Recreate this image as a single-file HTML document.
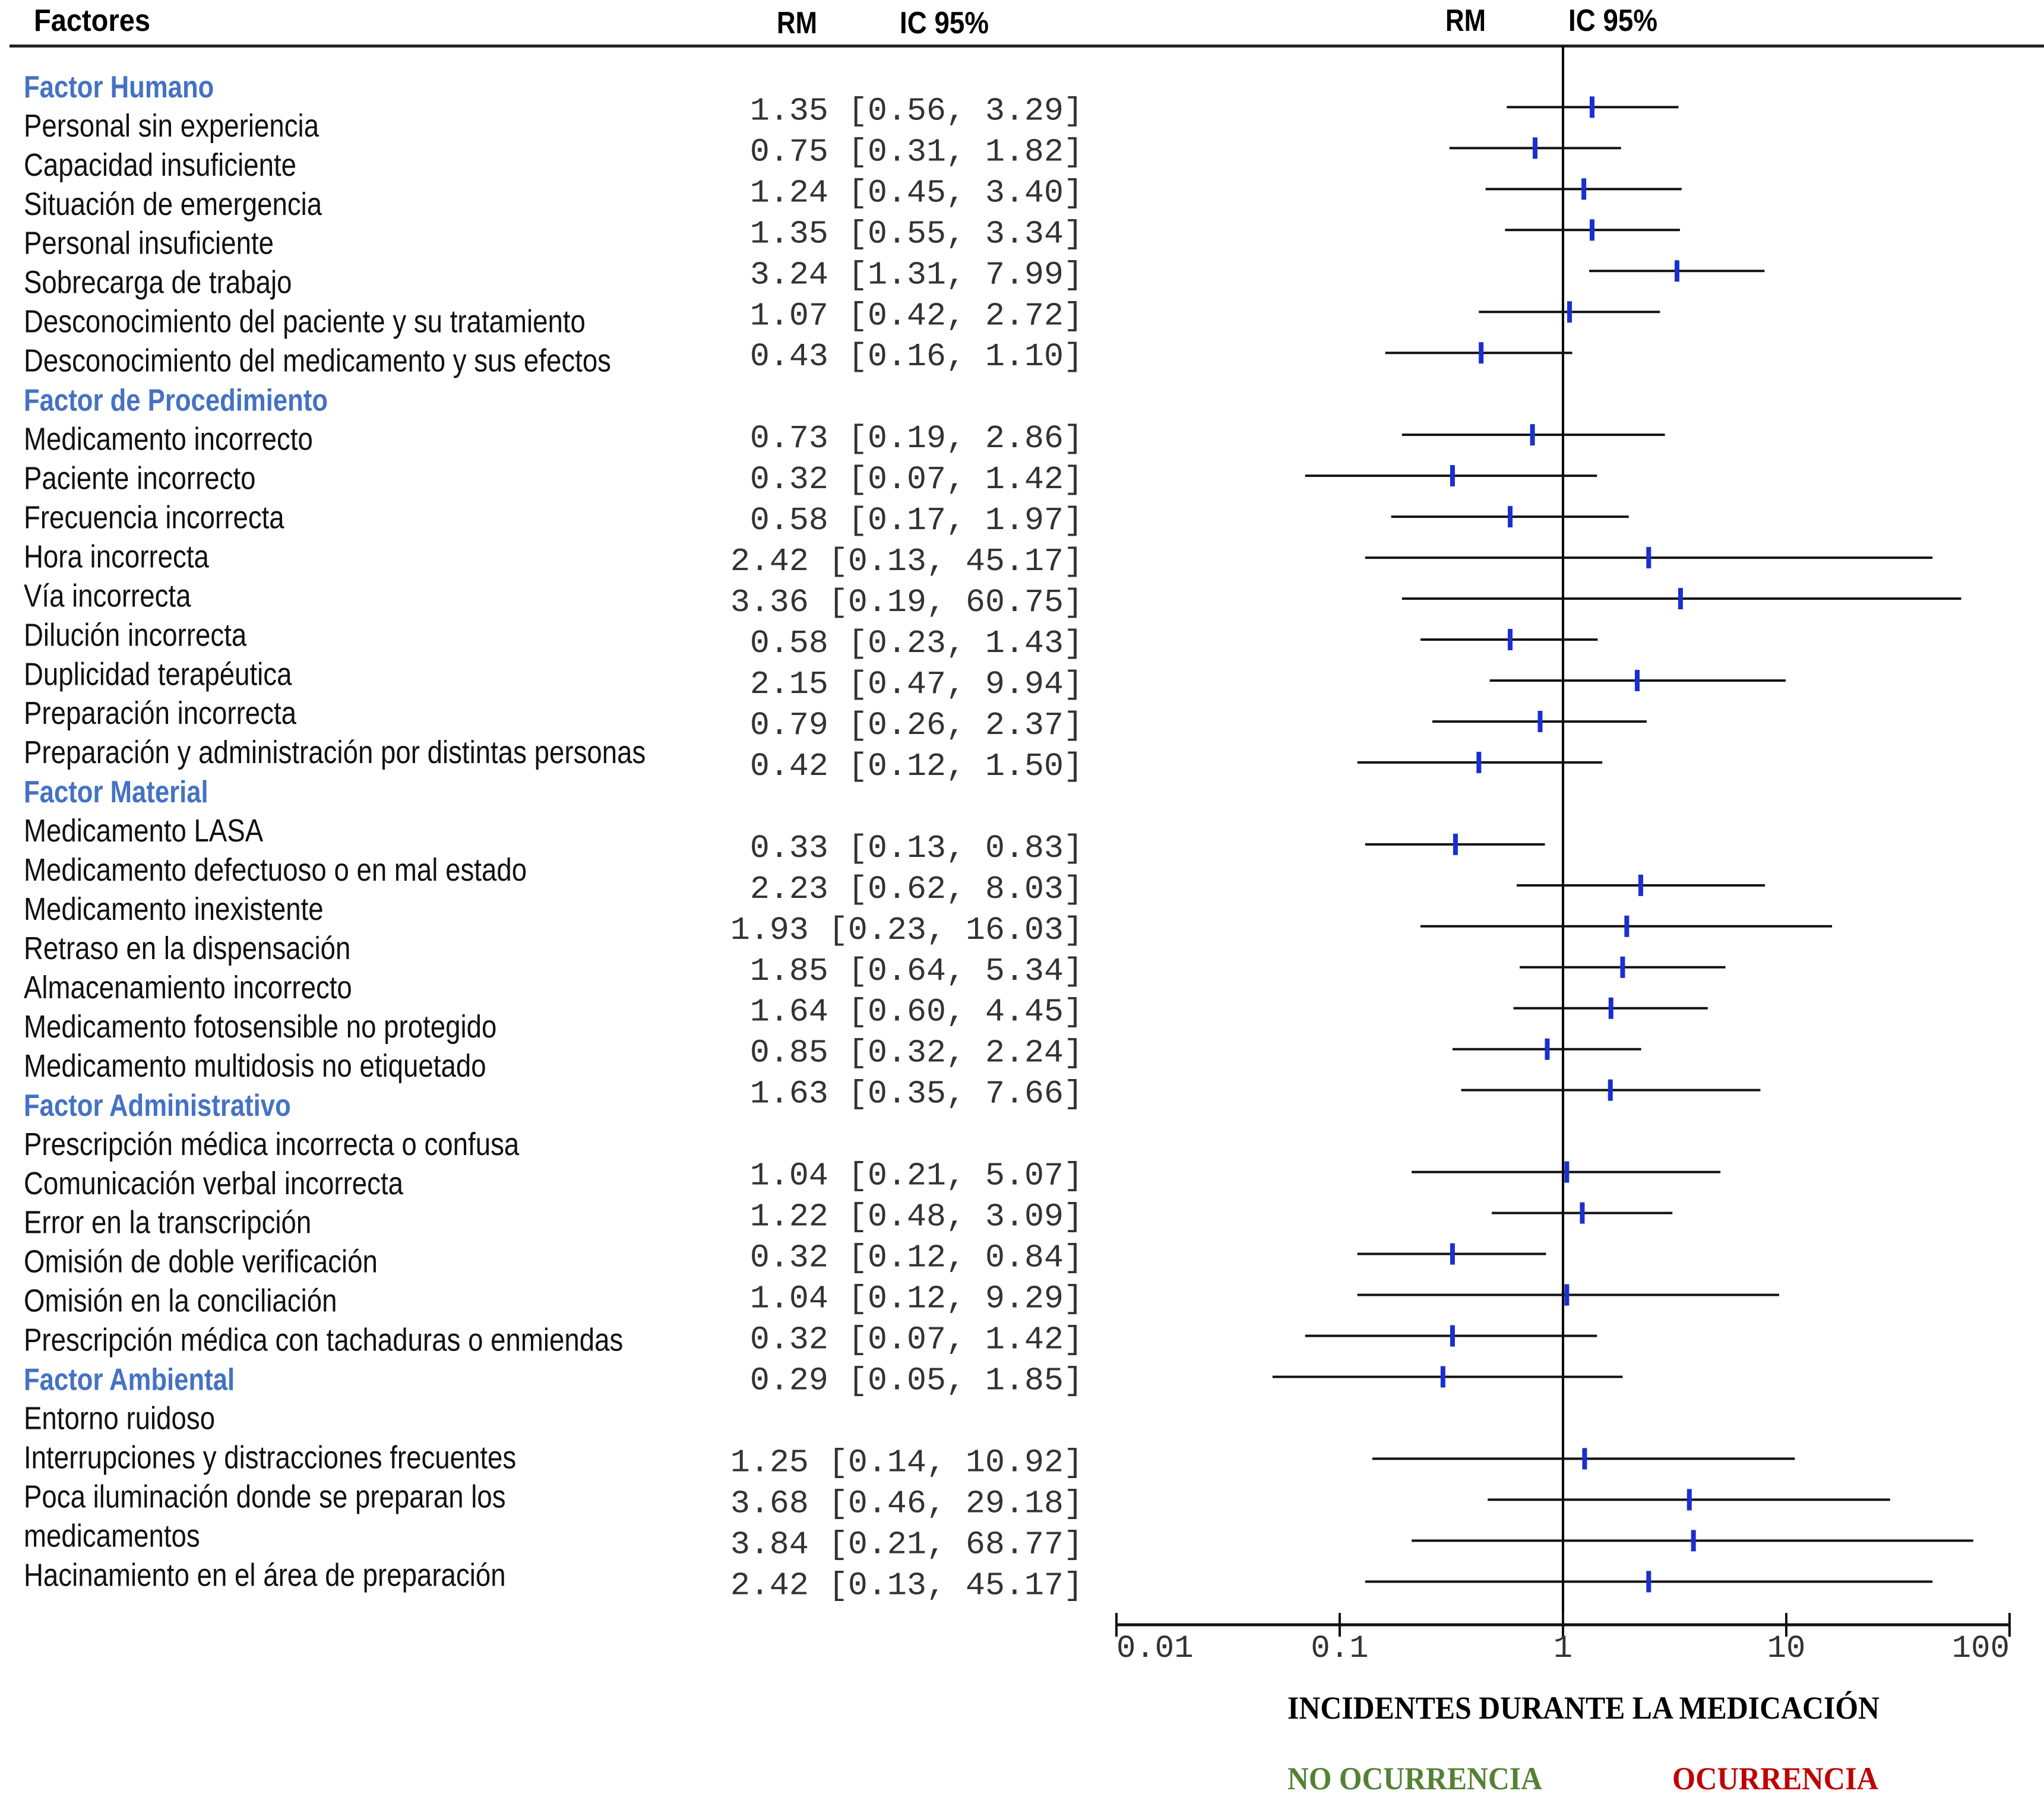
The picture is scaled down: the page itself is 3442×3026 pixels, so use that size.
<!DOCTYPE html>
<html><head><meta charset="utf-8">
<style>
html,body{margin:0;padding:0;background:#fff;}
svg{display:block;}
</style></head>
<body>
<svg id="chart" xmlns="http://www.w3.org/2000/svg" width="3442" height="3026" viewBox="0 0 3442 3026">
  <rect x="0" y="0" width="3442" height="3026" fill="#fff"/>
  <g>
    <text x="57" y="52" font-family="Liberation Sans, sans-serif" font-weight="bold" font-size="52" textLength="196" lengthAdjust="spacingAndGlyphs">Factores</text>
    <text x="1308" y="56" font-family="Liberation Sans, sans-serif" font-weight="bold" font-size="52" textLength="68" lengthAdjust="spacingAndGlyphs">RM</text>
    <text x="1515" y="56" font-family="Liberation Sans, sans-serif" font-weight="bold" font-size="52" textLength="150" lengthAdjust="spacingAndGlyphs">IC 95%</text>
    <text x="2434" y="52" font-family="Liberation Sans, sans-serif" font-weight="bold" font-size="52" textLength="68" lengthAdjust="spacingAndGlyphs">RM</text>
    <text x="2641" y="52" font-family="Liberation Sans, sans-serif" font-weight="bold" font-size="52" textLength="150" lengthAdjust="spacingAndGlyphs">IC 95%</text>
    <rect x="16" y="75" width="3426" height="5" fill="#222"/>
  </g>
  <g id="labels"></g>
  <g id="values"></g>
  <g id="plot"></g>
  <g>
    <text x="2168" y="2894" font-family="Liberation Serif, serif" font-weight="bold" font-size="54" textLength="997" lengthAdjust="spacingAndGlyphs">INCIDENTES DURANTE LA MEDICACIÓN</text>
    <text x="2168" y="3013" font-family="Liberation Serif, serif" font-weight="bold" font-size="54" fill="#548235" textLength="429" lengthAdjust="spacingAndGlyphs">NO OCURRENCIA</text>
    <text x="2816" y="3013" font-family="Liberation Serif, serif" font-weight="bold" font-size="54" fill="#c00000" textLength="347" lengthAdjust="spacingAndGlyphs">OCURRENCIA</text>
  </g>
</svg>
<script>
const groupNames = ["Factor Humano","Factor de Procedimiento","Factor Material","Factor Administrativo","Factor Ambiental"];
const groupSizes = [7, 9, 7, 6, 4];
const labelLines = [
 ["Personal sin experiencia","Capacidad insuficiente","Situación de emergencia","Personal insuficiente","Sobrecarga de trabajo","Desconocimiento del paciente y su tratamiento","Desconocimiento del medicamento y sus efectos"],
 ["Medicamento incorrecto","Paciente incorrecto","Frecuencia incorrecta","Hora incorrecta","Vía incorrecta","Dilución incorrecta","Duplicidad terapéutica","Preparación incorrecta","Preparación y administración por distintas personas"],
 ["Medicamento LASA","Medicamento defectuoso o en mal estado","Medicamento inexistente","Retraso en la dispensación","Almacenamiento incorrecto","Medicamento fotosensible no protegido","Medicamento multidosis no etiquetado"],
 ["Prescripción médica incorrecta o confusa","Comunicación verbal incorrecta","Error en la transcripción","Omisión de doble verificación","Omisión en la conciliación","Prescripción médica con tachaduras o enmiendas"],
 ["Entorno ruidoso","Interrupciones y distracciones frecuentes","Poca iluminación donde se preparan los","medicamentos","Hacinamiento en el área de preparación"]
];
const rmValues = [1.35,0.75,1.24,1.35,3.24,1.07,0.43, 0.73,0.32,0.58,2.42,3.36,0.58,2.15,0.79,0.42, 0.33,2.23,1.93,1.85,1.64,0.85,1.63, 1.04,1.22,0.32,1.04,0.32,0.29, 1.25,3.68,3.84,2.42];
const lowValues = [0.56,0.31,0.45,0.55,1.31,0.42,0.16, 0.19,0.07,0.17,0.13,0.19,0.23,0.47,0.26,0.12, 0.13,0.62,0.23,0.64,0.60,0.32,0.35, 0.21,0.48,0.12,0.12,0.07,0.05, 0.14,0.46,0.21,0.13];
const highValues = [3.29,1.82,3.40,3.34,7.99,2.72,1.10, 2.86,1.42,1.97,45.17,60.75,1.43,9.94,2.37,1.50, 0.83,8.03,16.03,5.34,4.45,2.24,7.66, 5.07,3.09,0.84,9.29,1.42,1.85, 10.92,29.18,68.77,45.17];
const tickValues = [0.01, 0.1, 1, 10, 100];
const tickLabels = ["0.01","0.1","1","10","100"];

const NS = "http://www.w3.org/2000/svg";
function mk(tag, attrs, parent){ const e=document.createElementNS(NS,tag); for(const k in attrs) e.setAttribute(k,attrs[k]); parent.appendChild(e); return e; }
const xScale = v => 2632 + 376*Math.log10(v);
const labelY = i => 144.9 + 65.96*i;
const slotY = k => 184.4 + 68.97*k;

const gl = document.getElementById('labels');
let line = 0;
groupNames.forEach((g, gi) => {
  const t = mk('text', {x:40, y:labelY(line)+19, 'font-family':'Liberation Sans, sans-serif', 'font-weight':'bold', 'font-size':52, fill:'#4472c4', transform:'translate(40,0) scale(0.84,1) translate(-40,0)'}, gl);
  
  
  t.textContent = g;
  line++;
  labelLines[gi].forEach(s => {
    const t2 = mk('text', {x:40, y:labelY(line)+19, 'font-family':'Liberation Sans, sans-serif', 'font-size':54, fill:'#111', transform:'translate(40,0) scale(0.845,1) translate(-40,0)'}, gl);
    
    
    t2.textContent = s;
    line++;
  });
});

const slots = [];
let k = 0;
groupSizes.forEach(n => { for(let i=0;i<n;i++) slots.push(k++); k++; });

const gv = document.getElementById('values');
const gp = document.getElementById('plot');

const ref = mk('line', {x1:xScale(1), x2:xScale(1), y1:78, y2:2736, stroke:'#000', 'stroke-width':4}, gp);



rmValues.forEach((rm, i) => {
  const y = slotY(slots[i]);
  const txt = mk('text', {x:1824, y:y+17, 'text-anchor':'end', 'font-family':'Liberation Mono, monospace', 'font-size':55, fill:'#333'}, gv);
  
  
  txt.textContent = rm.toFixed(2) + ' [' + lowValues[i].toFixed(2) + ', ' + highValues[i].toFixed(2) + ']';
  const ci = mk('line', {x1:xScale(lowValues[i]), x2:xScale(highValues[i]), y1:y-4, y2:y-4, stroke:'#111', 'stroke-width':4}, gp);
  
  
  const m = mk('rect', {x:xScale(rm)-4, y:y-22, width:8, height:36, fill:'#1a2fd0'}, gp);
  
  
});

const ax = mk('line', {x1:xScale(0.01), x2:xScale(100), y1:2736, y2:2736, stroke:'#111', 'stroke-width':5}, gp);


tickValues.forEach((v, i) => {
  const x = xScale(v);
  const t = mk('line', {x1:x, x2:x, y1:2716, y2:2756, stroke:'#111', 'stroke-width':4}, gp);
  
  
  const anchor = i===0 ? 'start' : (i===tickValues.length-1 ? 'end' : 'middle');
  const lb = mk('text', {x:x, y:2790, 'text-anchor':anchor, 'font-family':'Liberation Mono, monospace', 'font-size':54, fill:'#333'}, gp);
  
  
  lb.textContent = tickLabels[i];
});
</script>
</body></html>
